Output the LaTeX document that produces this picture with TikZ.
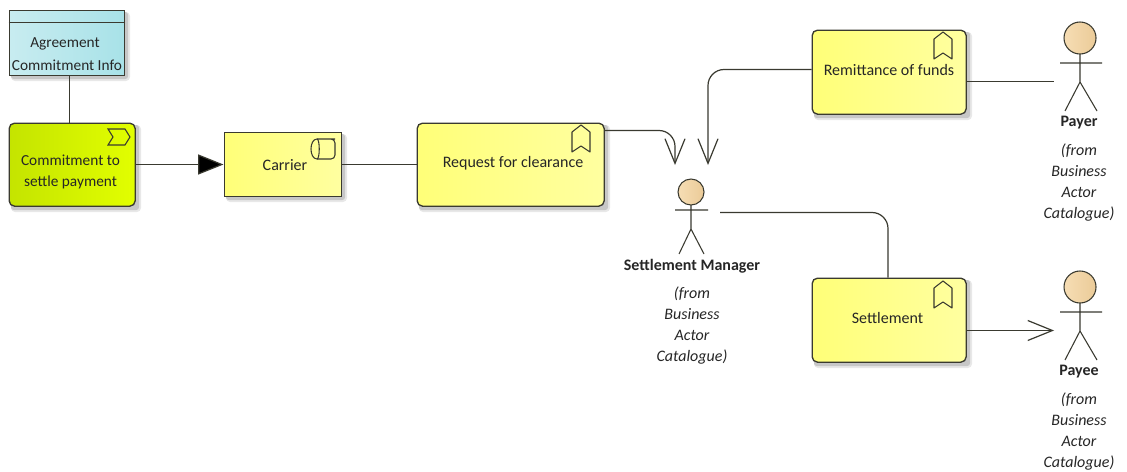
\documentclass[tikz,border=0pt]{standalone}
\usepackage{fontspec}
\setmainfont{Carlito}
\usetikzlibrary{arrows.meta,calc}
\definecolor{ln}{HTML}{3A3A30}
\definecolor{yelL}{HTML}{FFFF78}
\definecolor{yelR}{HTML}{FFFFA0}
\definecolor{limeL}{HTML}{C4E400}
\definecolor{limeR}{HTML}{E2FF00}
\definecolor{aquaL}{HTML}{C8ECF0}
\definecolor{aquaR}{HTML}{A8E2E8}
\definecolor{headL}{HTML}{F6DDB4}
\definecolor{headR}{HTML}{EBCB98}
\newcommand{\txt}{\fontsize{12pt}{15.6pt}\selectfont}
\newcommand{\txts}{\fontsize{11.5pt}{16.4pt}\selectfont}
\tikzset{
  x=0.75pt,y=-0.75pt,
  every node/.style={font=\txt,text=black!85,inner sep=0pt,align=center},
  smalltext/.style={font=\txts},
  wire/.style={draw=ln,line width=0.9pt,rounded corners=12pt},
  openend/.style={-{Straight Barb[length=18.5pt,width=15pt,line width=0.9pt]}},
  solidend/.style={-{Triangle[length=19pt,width=15pt,fill=black]}},
  bx/.style={draw=ln,line width=1pt,anchor=north west},
  yel/.style={bx,left color=yelL,right color=yelR},
  lime/.style={bx,left color=limeL,right color=limeR},
  aqua/.style={bx,left color=aquaL,right color=aquaR},
  icon/.style={draw=ln,line width=0.8pt},
  limb/.style={draw=ln,line width=0.8pt},
  actorname/.style={font=\txt\bfseries},
  actornote/.style={font=\txt\itshape,anchor=north},
  shadowa/.style={fill=black,opacity=.09},
  shadowb/.style={fill=black,opacity=.14},
}
\begin{document}
\begin{tikzpicture}
\useasboundingbox (0,0) rectangle (1127,471);
\fill[white] (0,0) rectangle (1127,471);
% shadows
\foreach \a/\b/\c/\d in {9/10/124/75, 9/123/135/206, 224/132/341/196, 417/123/604/206, 812/30/966/114, 812/278/966/362}{
  \fill[shadowa,rounded corners=3pt] (\a+2,\b+2) rectangle (\c+6,\d+6);
  \fill[shadowb,rounded corners=2pt] (\a+2,\b+2) rectangle (\c+4,\d+4);
}
% boxes
\node[aqua,minimum width=115*0.75pt,minimum height=65*0.75pt] (agr) at (8.5,9.5) {};
\draw[ln,line width=1pt] (agr.west |- 0,22.5) -- (agr.east |- 0,22.5);
\node[smalltext] (agrt1) at (65,44) {Agreement};
\node[smalltext] (agrt2) at (67,65.5) {Commitment Info};
\node[lime,rounded corners=4pt,minimum width=126*0.75pt,minimum height=83*0.75pt] (com) at (8.5,122.5) {};
\node[smalltext] (comt) at (70.5,172) {Commitment to\\settle payment};
\node[yel,minimum width=117*0.75pt,minimum height=64*0.75pt] (car) at (223.5,131.5) {};
\node (cart) at (285,165.5) {Carrier};
\node[yel,rounded corners=4pt,minimum width=187*0.75pt,minimum height=83*0.75pt] (req) at (416.5,122.5) {};
\node (reqt) at (513,163) {Request for clearance};
\node[yel,rounded corners=4pt,minimum width=154*0.75pt,minimum height=84*0.75pt] (rem) at (811.5,29.5) {};
\node (remt) at (889,70) {Remittance of funds};
\node[yel,rounded corners=4pt,minimum width=154*0.75pt,minimum height=84*0.75pt] (set) at (811.5,277.5) {};
\node (sett) at (887.5,318) {Settlement};
% icons
\draw[icon] (108,129) -- (125,129) -- (130,137) -- (125,145) -- (108,145) -- (113,137) -- cycle;
\draw[icon,rounded corners=3pt] (317,139) -- (331,139) -- (335,139) -- (335,159) -- (317,159);
\draw[icon] (317,139) .. controls (309,139) and (309,159) .. (317,159) .. controls (320,159) and (320,139) .. (317,139);
\foreach \ix/\iy in {572/125, 934/32, 934/281}{
  \draw[icon,line join=round] (\ix,\iy+7) -- (\ix+9,\iy) -- (\ix+18,\iy+7) -- (\ix+18,\iy+27) -- (\ix+9,\iy+21) -- (\ix,\iy+27) -- cycle;
}
% actors
\draw[limb,left color=headL,right color=headR] (691,192) circle (13);
\draw[limb] (691,205) -- (691,229) (675,210) -- (708,210) (679,254) -- (691,229) -- (704,254);
\node[actorname] (mgr) at (692,266) {Settlement Manager};
\node[actornote] (mgrn) at (692,287) {(from\\Business\\Actor\\Catalogue)};
\draw[limb,left color=headL,right color=headR] (1080,38) circle (16);
\draw[limb] (1080,54) -- (1080,82) (1060,63) -- (1102,63) (1065,111) -- (1080,82) -- (1097,111);
\node[actorname] (pyr) at (1079,123) {Payer};
\node[actornote] (pyrn) at (1079,144) {(from\\Business\\Actor\\Catalogue)};
\draw[limb,left color=headL,right color=headR] (1080,287) circle (16);
\draw[limb] (1080,303) -- (1080,331) (1060,312) -- (1102,312) (1065,360) -- (1080,331) -- (1097,360);
\node[actorname] (pye) at (1079,372) {Payee};
\node[actornote] (pyen) at (1079,393) {(from\\Business\\Actor\\Catalogue)};
% free ends
\coordinate (mgrA) at (675,165);
\coordinate (mgrB) at (708,165);
\coordinate (mgrC) at (720,212.5);
\coordinate (pyrP) at (1054,81.5);
\coordinate (pyeP) at (1054,330.5);
% connectors
\draw[wire] ([xshift=2.25pt]agr.south) -- ([xshift=2.25pt]agr.south |- com.north);
\draw[wire,solidend] (com.east |- 0,164.5) -- (car.west |- 0,164.5);
\draw[wire] (car.east |- 0,164.5) -- (req.west |- 0,164.5);
\draw[wire,openend] (req.east |- 0,130.5) -- (mgrA |- 0,130.5) -- (mgrA);
\draw[wire,openend] (rem.west |- 0,69.5) -- (mgrB |- 0,69.5) -- (mgrB);
\draw[wire] (rem.east |- pyrP) -- (pyrP);
\draw[wire] (mgrC) -- (888,212.5) -- (888,277.5);
\draw[wire,openend] (set.east |- pyeP) -- (pyeP);
\end{tikzpicture}
\end{document}
